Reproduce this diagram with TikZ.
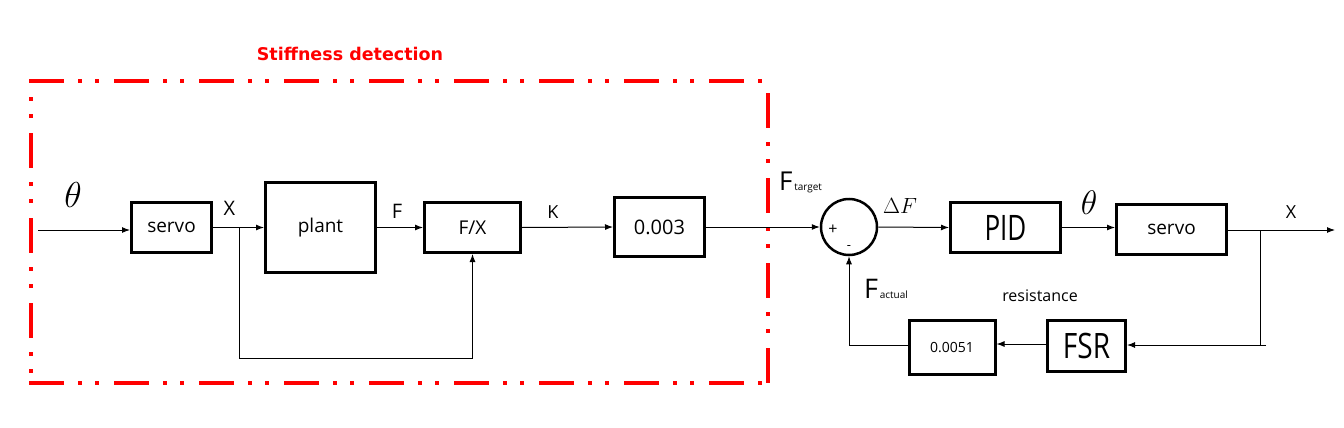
\documentclass[tikz,border=0pt]{standalone}
\usepackage{fix-cm}
\usepackage{fontspec}
\setmainfont{Open Sans}
\newfontfamily\titlefont{DejaVu Sans}
\usetikzlibrary{arrows.meta,calc}
\newcommand{\fs}[1]{\fontsize{#1}{#1}\selectfont}
\begin{document}
\begin{tikzpicture}[x=1pt,y=-1pt,
  blk/.style={draw,line width=3pt,inner sep=0pt,rectangle},
  conn/.style={line width=1pt,black},
  arr/.style={conn,-{Latex[length=8pt,width=6pt]}},
  redbox/.style={red,line width=4pt,dash pattern=on 35pt off 14pt on 4pt off 13pt on 4pt off 15pt},
  lbl/.style={inner sep=0pt}]
\useasboundingbox (0,0) rectangle (1344,428);

% red dash-dot-dot frame
\draw[redbox] (29,81) -- (770,81);
\draw[redbox,dash phase=33pt] (31,81) -- (31,385);
\draw[redbox,dash phase=73pt] (768,81) -- (768,385);
\draw[redbox] (29,383) -- (770,383);
\node[lbl,text=red] (title) at (350,54) {\titlefont\bfseries\fs{17.5}Stiffness detection};

% blocks
\node[blk,minimum width=80pt,minimum height=50pt] (servo1) at (171.5,227.5) {\fs{19}servo};
\node[blk,minimum width=110pt,minimum height=90pt] (plant) at (320.5,227.5) {\fs{19}plant};
\node[blk,minimum width=96pt,minimum height=50pt] (fx) at (472.5,227.5) {\fs{19}F/X};
\node[blk,minimum width=90pt,minimum height=59pt] (k003) at (659.5,227) {\fs{20}0.003};
\node[draw,circle,line width=2.5pt,minimum size=56pt,inner sep=0pt] (sum) at (849,227) {};
\node[blk,minimum width=110pt,minimum height=50pt] (pid) at (1005.5,227.5) {\scalebox{1}[1.35]{\fs{26}PID}};
\node[blk,minimum width=110pt,minimum height=50pt] (servo2) at (1171.5,229.5) {\fs{19}servo};
\node[blk,minimum width=78pt,minimum height=51pt] (fsr) at (1086.5,346) {\scalebox{1}[1.25]{\fs{28}FSR}};
\node[blk,minimum width=86pt,minimum height=54pt] (g0051) at (952,347.5) {\fs{14}0.0051};

% connectors
\coordinate (in) at (38,230);
\draw[arr] (in) -- (in -| servo1.west);
\draw[arr] (servo1.east) -- (plant.west);
\coordinate (b1) at (239,227.5);
\draw[arr] (b1) -- (239,358) -| (fx.south);
\draw[arr] (plant.east) -- (fx.west);
\draw[arr] (fx.east) -- (k003.west);
\draw[arr] (k003.east) -- (sum.west);
\draw[arr] (sum.east) -- (pid.west);
\draw[arr] (pid.east) -- (pid.east -| servo2.west);
\coordinate (out) at (1335,230);
\draw[arr] (servo2.east |- out) -- (out);
\coordinate (b2) at (1260,230);
\coordinate (stub) at (1266,345);
\draw[conn] (b2) -- (b2 |- stub);
\draw[arr] (stub) -- (stub -| fsr.east);
\draw[arr] (fsr.west |- 0,344) -- (g0051.east |- 0,344);
\draw[arr] (g0051.west |- 0,345) -| (sum.south);

% labels
\node[lbl] (th1) at (73,195) {\fs{36}$\theta$};
\node[lbl] (lx1) at (229.5,208.5) {\fs{20}X};
\node[lbl] (lf1) at (397,211.5) {\fs{20}F};
\node[lbl] (lk) at (553,212.5) {\fs{18}K};
\node[lbl,anchor=base west] (ftarget) at (779,190) {\fs{26}F\fs{10}\,target};
\node[lbl,anchor=base west] (factual) at (864,298) {\fs{27}F\fs{10}\,actual};
\node[lbl] (plus) at (833,230) {\fs{16}+};
\node[lbl] (minus) at (849,248) {\fs{13}-};
\node[lbl] (df) at (900,206) {\fs{22}$\Delta F$};
\node[lbl] (th2) at (1089,203) {\fs{34}$\theta$};
\node[lbl] (lx2) at (1291,212.5) {\fs{18}X};
\node[lbl] (res) at (1040,296) {\fs{16}resistance};
\end{tikzpicture}
\end{document}
